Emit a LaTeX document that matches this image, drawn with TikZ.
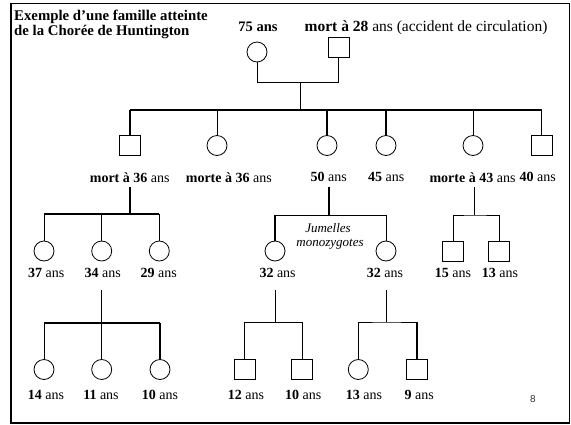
\documentclass[tikz,border=0pt]{standalone}
\usepackage{fontspec}
\setmainfont{Liberation Serif}
\newfontfamily\pagenumfont{Liberation Sans}
\begin{document}
\begin{tikzpicture}[x=1pt,y=-1pt,
  fem/.style={circle,draw,line width=0.8pt,minimum size=20pt,inner sep=0pt},
  masc/.style={rectangle,draw,line width=0.8pt,minimum width=21pt,minimum height=20pt,inner sep=0pt},
  age/.style={font=\fontsize{14}{16}\selectfont,inner sep=0pt},
  thinline/.style={line width=0.8pt},
  heavyline/.style={line width=2pt},
  twins/.style={font=\fontsize{13}{15}\selectfont\itshape,inner sep=0pt},
  heading/.style={anchor=base west,inner sep=0pt,font=\fontsize{14.8}{16}\selectfont\bfseries},
]
\useasboundingbox (0,0) rectangle (571,424);
% slide frame
\draw[line width=1.6pt] (11,3.5) rectangle (569.5,423);

% title
\node[heading] (t1) at (14,20) {Exemple d’une famille atteinte};
\node[heading] (t2) at (14,35.5) {de la Chorée de Huntington};

% generation I
\node[anchor=base,inner sep=0pt,font=\fontsize{14.5}{16}\selectfont\bfseries] (la) at (258,31) {75 ans};
\node[anchor=base west,inner sep=0pt,font=\fontsize{15.5}{17}\selectfont] (lb) at (304.5,31) {\textbf{mort à 28} ans (accident de circulation)};
\node[fem] (gm) at (257,52) {};
\node[masc] (gf) at (338.5,47) {};
\coordinate (pj) at (300.7,82.3);
\coordinate (k0) at (300.7,109.5);
\draw[thinline] (gm.south) |- (pj) -| (gf.south);
\draw[thinline] (pj) -- (k0);

% generation II
\node[masc] (c1) at (130,145.5) {};
\node[fem]  (c2) at (217,145.5) {};
\node[fem]  (c3) at (327,145.5) {};
\node[fem]  (c4) at (386,145.5) {};
\node[fem]  (c5) at (473,145.5) {};
\node[masc] (c6) at (541.7,145.5) {};
\draw[heavyline] (c1.north |- k0) -- (c6.north |- k0);
\draw[heavyline] (c1.north) -- (c1.north |- k0);
\draw[thinline]  (c2.north) -- (c2.north |- k0);
\draw[line width=1.2pt] (c3.north) -- (c3.north |- k0);
\draw[heavyline] (c4.north) -- (c4.north |- k0);
\draw[thinline]  (c5.north) -- (c5.north |- k0);
\draw[thinline]  (c6.north) -- (c6.north |- k0);

\node[age] (l1) at (129.7,177.3) {\textbf{mort à 36} ans};
\node[age] (l2) at (228.8,177.3) {\textbf{morte à 36} ans};
\node[age] (l3) at (328.7,177.3) {\textbf{50} ans};
\node[age] (l4) at (386.3,177.3) {\textbf{45} ans};
\node[age] (l5) at (472.5,177.3) {\textbf{morte à 43} ans};
\node[age] (l6) at (537.7,177.3) {\textbf{40} ans};

% generation III, children of the son who died at 36
\coordinate (s1) at (130,187);
\coordinate (k1) at (130,214.3);
\node[fem] (a1) at (44,251) {};
\node[fem] (a2) at (101.7,251) {};
\node[fem] (a3) at (159.3,251) {};
\draw[heavyline] (s1) -- (k1);
\draw[heavyline] (a1.north |- k1) -- (a3.north |- k1);
\draw[thinline] (a1.north) -- (a1.north |- k1);
\draw[thinline] (a2.north) -- (a2.north |- k1);
\draw[thinline] (a3.north) -- (a3.north |- k1);
\node[age] (la1) at (46.2,272.7) {\textbf{37} ans};
\node[age] (la2) at (102.8,272.7) {\textbf{34} ans};
\node[age] (la3) at (158.7,272.7) {\textbf{29} ans};

% generation III, monozygotic twins
\coordinate (s2) at (328.5,187);
\coordinate (k2) at (328.5,215);
\node[fem] (w1) at (275,251) {};
\node[fem] (w2) at (386,251) {};
\draw[heavyline] (s2) -- (k2);
\draw[thinline] (w1.north |- k2) -- (w2.north |- k2);
\draw[heavyline] (w1.north) -- (w1.north |- k2);
\draw[thinline] (w2.north) -- (w2.north |- k2);
\node[twins] (j1) at (328,228) {Jumelles};
\node[twins] (j2) at (330,244) {monozygotes};
\node[age] (lw1) at (277.6,272.7) {\textbf{32} ans};
\node[age] (lw2) at (385,272.7) {\textbf{32} ans};

% generation III, sons of the daughter who died at 43
\coordinate (s3) at (474,187);
\coordinate (k3) at (474,215);
\node[masc] (r1) at (453,251) {};
\node[masc] (r2) at (499,251) {};
\draw[thinline] (s3) -- (k3);
\draw[thinline] (r1.north) |- (k3) -| (r2.north);
\node[age] (lr1) at (453,272.7) {\textbf{15} ans};
\node[age] (lr2) at (500,272.7) {\textbf{13} ans};

% generation IV, left
\coordinate (s4) at (101.7,290);
\coordinate (k4) at (101.7,322.7);
\node[fem] (d1) at (44,369.5) {};
\node[fem] (d2) at (101.7,369.5) {};
\node[fem] (d3) at (160,369.5) {};
\draw[thinline] (s4) -- (d2.north);
\draw[heavyline] (d1.north |- k4) -- (d3.north |- k4);
\draw[thinline] (d1.north) -- (d1.north |- k4);
\draw[heavyline] (d3.north) -- (d3.north |- k4);
\node[age] (ld1) at (46,395) {\textbf{14} ans};
\node[age] (ld2) at (101,395) {\textbf{11} ans};
\node[age] (ld3) at (160,395) {\textbf{10} ans};

% generation IV, middle
\coordinate (s5) at (275,290);
\coordinate (k5) at (275,322.7);
\node[masc] (e1) at (244.5,369.5) {};
\node[masc] (e2) at (302.3,369.5) {};
\draw[thinline] (s5) -- (k5);
\draw[thinline] (e1.north) |- (k5) -| (e2.north);
\node[age] (le1) at (246,395) {\textbf{12} ans};
\node[age] (le2) at (303.3,395) {\textbf{10} ans};

% generation IV, right
\coordinate (s6) at (386,290);
\coordinate (k6) at (386,322);
\node[fem]  (f1) at (358.3,369.5) {};
\node[masc] (f2) at (417,369.5) {};
\draw[thinline] (s6) -- (k6);
\draw[thinline] (f1.north) |- (k6) -- (f2.north |- k6);
\draw[heavyline] (f2.north) -- (f2.north |- k6);
\node[age] (lf1) at (364,395) {\textbf{13} ans};
\node[age] (lf2) at (419.3,395) {\textbf{9} ans};

% page number
\node[inner sep=0pt,font=\pagenumfont\fontsize{10}{12}\selectfont,text=black!80] (pn) at (533,399) {8};
\end{tikzpicture}
\end{document}
